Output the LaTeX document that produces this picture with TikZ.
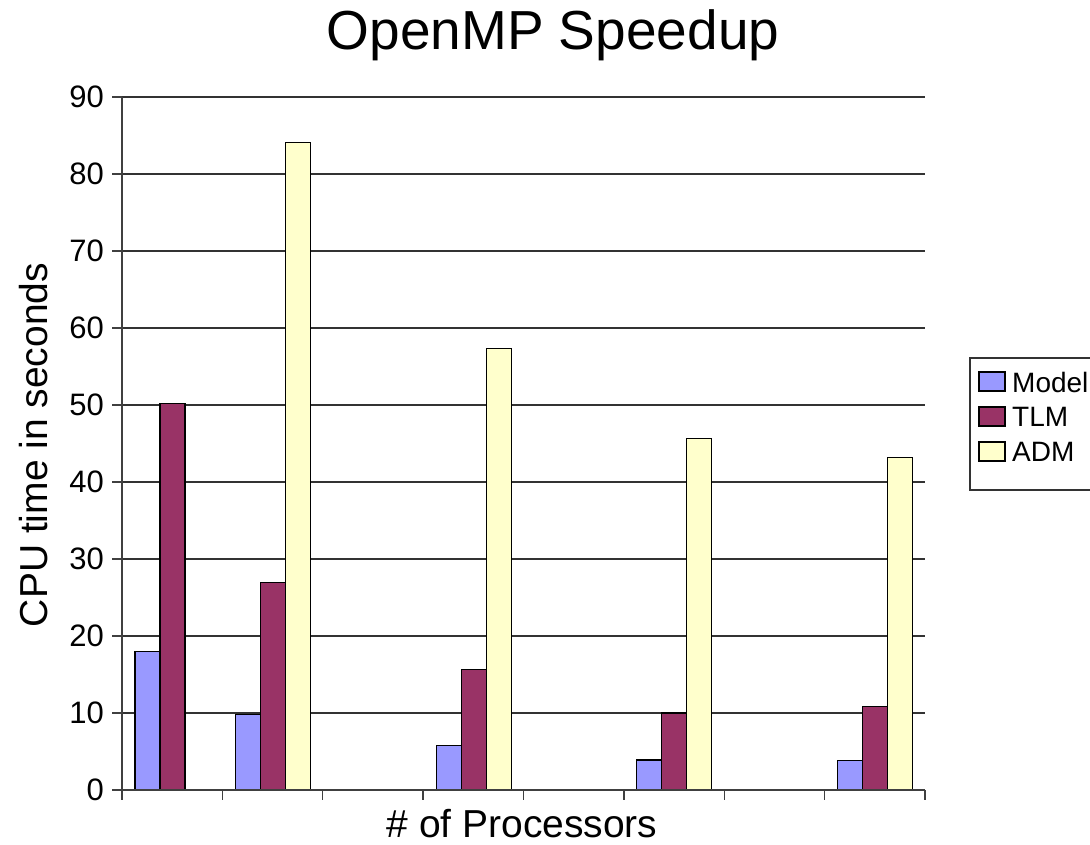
\documentclass[tikz,border=0pt]{standalone}
\usepackage{fontspec}
\setmainfont{Liberation Sans}
\definecolor{cmodel}{HTML}{9999FF}
\definecolor{ctlm}{HTML}{993366}
\definecolor{cadm}{HTML}{FFFFCC}
\begin{document}
\begin{tikzpicture}[x=1pt,y=-1pt,
  barbox/.style={draw=black,line width=1.2pt},
  gridline/.style={draw=black!80,line width=1.2pt},
  axisline/.style={draw=black!75,line width=1.3pt},
  ticklabel/.style={anchor=east,inner sep=0pt,font=\fontsize{31}{33}\selectfont},
  legendtext/.style={anchor=west,inner sep=0pt,font=\fontsize{28}{30}\selectfont},
  axistitle/.style={inner sep=0pt,font=\fontsize{39}{42}\selectfont}]
\useasboundingbox (0,0) rectangle (1090,845);
% gridlines and y ticks
\foreach \k in {1,...,9} {
  \draw[gridline] (122,{790-77*\k}) -- (925,{790-77*\k});
}
\foreach \k in {0,...,9} {
  \draw[axisline] (112,{790-77*\k}) -- (122,{790-77*\k});
  \pgfmathtruncatemacro{\lab}{10*\k}
  \node[ticklabel] (yl\k) at (104,{790-77*\k}) {\lab};
}
% x ticks
\foreach \i in {0,...,8} {
  \draw[axisline] ({122+100.375*\i},790) -- ({122+100.375*\i},800);
}
% bars: category index, model, tlm, adm
\foreach \c/\m/\t in {0/18/50.2, 1/9.8/27, 3/5.8/15.6, 5/3.9/10, 7/3.8/10.8} {
  \draw[barbox,fill=cmodel] ({122+100.375*\c+13},790) rectangle ({122+100.375*\c+38},{790-7.7*\m});
  \draw[barbox,fill=ctlm] ({122+100.375*\c+38},790) rectangle ({122+100.375*\c+63},{790-7.7*\t});
}
\foreach \c/\a in {1/84.1, 3/57.3, 5/45.7, 7/43.2} {
  \draw[barbox,fill=cadm] ({122+100.375*\c+63},790) rectangle ({122+100.375*\c+88},{790-7.7*\a});
}
% axes
\draw[axisline] (122,97) -- (122,790);
\draw[axisline] (122,790) -- (925,790);
% titles
\node[inner sep=0pt,font=\fontsize{55}{60}\selectfont] (title) at (553,35) {OpenMP Speedup};
\node[axistitle,rotate=90] (ytitle) at (34,445) {CPU time in seconds};
\node[axistitle] (xtitle) at (522,824) {\# of Processors};
% legend
\draw[draw=black!80,line width=1.2pt,fill=white] (970,358) rectangle (1100,490);
\draw[barbox,fill=cmodel] (979,372) rectangle (1005,391);
\draw[barbox,fill=ctlm] (979,407) rectangle (1005,426);
\draw[barbox,fill=cadm] (979,442) rectangle (1005,461);
\node[legendtext] (lmodel) at (1012,382) {Model};
\node[legendtext] (ltlm) at (1012,417) {TLM};
\node[legendtext] (ladm) at (1012,452) {ADM};
\end{tikzpicture}
\end{document}
